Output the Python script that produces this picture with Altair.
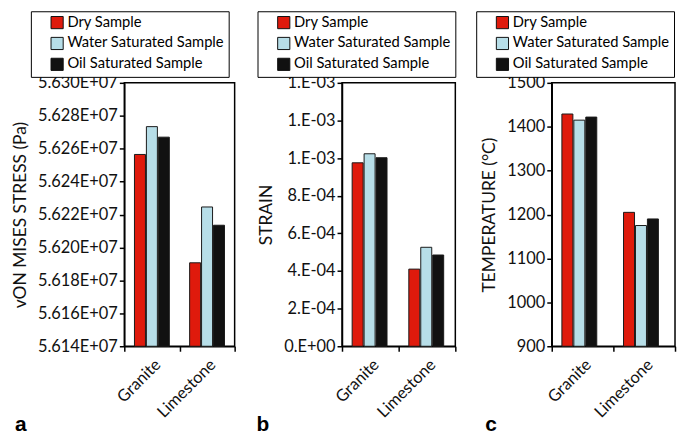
import altair as alt
import pandas as pd

FONT = "Lato"

rocks = ["Granite", "Limestone"]
samples = ["Dry Sample", "Water Saturated Sample", "Oil Saturated Sample"]
colors = ["#DF1A0C", "#B7DEE8", "#111111"]

stress_dry = [5.62565e7, 5.61907e7]
stress_water = [5.62734e7, 5.62246e7]
stress_oil = [5.62670e7, 5.62135e7]

strain_dry = [9.75e-4, 4.10e-4]
strain_water = [1.023e-3, 5.26e-4]
strain_oil = [1.002e-3, 4.85e-4]

temp_dry = [1429, 1205]
temp_water = [1415, 1175]
temp_oil = [1422, 1190]

stress_ticks = [5.614e7, 5.616e7, 5.618e7, 5.620e7, 5.622e7, 5.624e7, 5.626e7, 5.628e7, 5.630e7]
strain_ticks = [0, 2e-4, 4e-4, 6e-4, 8e-4, 1.0e-3, 1.2e-3, 1.4e-3]
temp_ticks = [900, 1000, 1100, 1200, 1300, 1400, 1500]


def frame(d, w, o):
    rows = []
    for i, r in enumerate(rocks):
        for s, vals in zip(samples, [d, w, o]):
            rows.append({"rock": r, "sample": s, "value": vals[i]})
    return pd.DataFrame(rows)


def panel(df, title, ticks, label_expr, width, letter, letter_x, legend_x):
    dom = [ticks[0], ticks[-1]]
    bars = alt.Chart(df).mark_bar(stroke="#1a1a1a", strokeWidth=1).encode(
        x=alt.X("rock:N", sort=rocks,
                scale=alt.Scale(paddingInner=0, paddingOuter=0),
                axis=alt.Axis(title=None, labelAngle=-45, tickBand="extent",
                              labelPadding=5)),
        xOffset=alt.XOffset("sample:N", sort=samples,
                            scale=alt.Scale(paddingInner=0.08, paddingOuter=0.85)),
        y=alt.Y("value:Q",
                scale=alt.Scale(domain=dom, zero=False, nice=False),
                axis=alt.Axis(values=ticks, labelExpr=label_expr, title=title,
                              grid=False, titlePadding=8)),
        y2=alt.datum(dom[0]),
        color=alt.Color("sample:N", sort=samples,
                        scale=alt.Scale(domain=samples, range=colors),
                        legend=alt.Legend(title=None, orient="none", direction="vertical",
                                          legendX=legend_x, legendY=-72,
                                          strokeColor="black", fillColor="white",
                                          padding=4, symbolType="square", symbolSize=150,
                                          symbolStrokeColor="#111111", symbolStrokeWidth=1,
                                          symbolOffset=15, labelLimit=400,
                                          labelFontSize=14.8, labelFont=FONT,
                                          labelColor="black", rowPadding=4,
                                          labelOffset=3)),
    )
    txt = alt.Chart(pd.DataFrame({"t": [letter]})).mark_text(
        font="Liberation Sans", fontSize=21, fontWeight="bold",
        align="left", baseline="alphabetic", color="black"
    ).encode(text="t:N", x=alt.value(letter_x), y=alt.value(350))
    return alt.layer(bars, txt).properties(width=width, height=265)


def spacer(w):
    return alt.Chart(pd.DataFrame({"v": [0]})).mark_point(opacity=0).encode(
        x=alt.value(0), y=alt.value(0)
    ).properties(width=w, height=265, view=alt.ViewBackground(stroke="transparent"))


pa = panel(frame(stress_dry, stress_water, stress_oil), "vON MISES STRESS (Pa)",
           stress_ticks, "replace(format(datum.value, '.3e'), 'e+7', 'E+07')",
           111, "a", -110, -94)
pb = panel(frame(strain_dry, strain_water, strain_oil), "STRAIN",
           strain_ticks,
           "replace(replace(replace(format(datum.value, '.0e'), 'e-3', '.E-03'), 'e-4', '.E-04'), 'e+0', '.E+00')",
           114, "b", -86, -85)
pc = panel(frame(temp_dry, temp_water, temp_oil), "TEMPERATURE (°C)",
           temp_ticks, "format(datum.value, 'd')",
           124, "c", -67, -76)

chart = alt.hconcat(pa, spacer(108), pb, spacer(97), pc, spacing=0, bounds="flush").resolve_legend(
    color="independent"
).properties(
    padding={"left": 2, "top": 0, "right": 0, "bottom": 0}
).configure_view(
    stroke="black", strokeWidth=1.5
).configure_axis(
    domainColor="black", domainWidth=1.5, tickColor="black", tickWidth=1.5, tickSize=5,
    labelFont=FONT, labelFontSize=16.5, labelColor="#111111",
    titleFont=FONT, titleFontSize=17.5, titleFontWeight="normal", titleColor="#111111"
)

chart.save("out.html", embed_options={"renderer": "svg", "actions": False})
